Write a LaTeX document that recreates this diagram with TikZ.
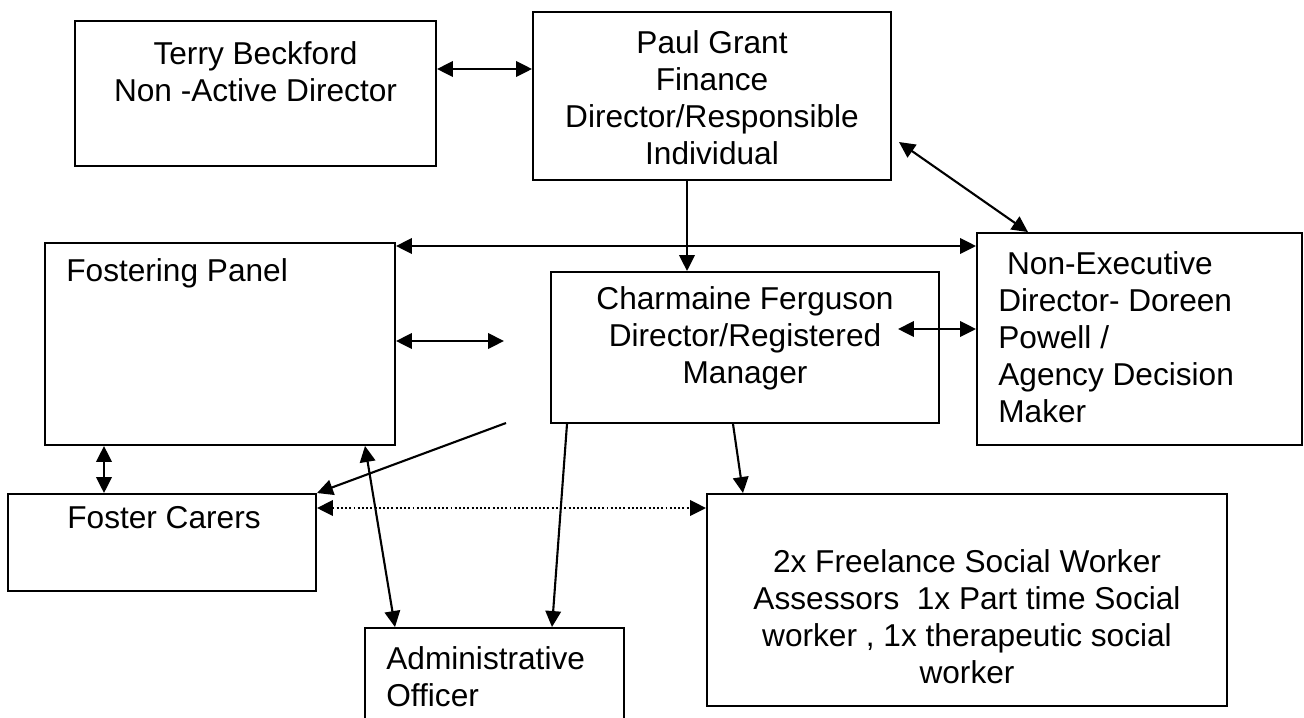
\documentclass[tikz,border=0pt]{standalone}
\usepackage{fontspec}
\setmainfont{Liberation Sans}
\usetikzlibrary{arrows.meta, calc, fit}

\begin{document}
\begin{tikzpicture}[
        x=0.02cm, y=-0.02cm,
        box/.style={draw, line width=1.1pt, inner sep=0pt},
        txt/.style={inner sep=0pt, align=center, font=\fontsize{18pt}{21pt}\selectfont},
        arrow/.style={-{Triangle[length=0.32cm, width=0.31cm]}, line width=1.2pt},
        both/.style={{Triangle[length=0.32cm, width=0.31cm]}-{Triangle[length=0.32cm, width=0.31cm]}, line width=1.2pt}
    ]
        \useasboundingbox (0,0) rectangle (1304,717);

        % Directors
        \node[box, fit={(75,21) (436,166)}] (terry) {};
        \node[txt] (terrytxt) at (255.5,72) {Terry Beckford\\Non -Active Director};

        \node[box, fit={(533,12) (891,180)}] (paul) {};
        \node[txt] (paultxt) at (712,98) {Paul Grant\\Finance\\Director/Responsible\\Individual};

        \node[box, fit={(977,233) (1302,445)}] (nonexec) {};
        \node[txt, align=left, anchor=west] (nonexectxt) at (998,337)
            {~Non-Executive\\Director- Doreen\\Powell /\\Agency Decision\\Maker};

        % Manager
        \node[box, fit={(551,272) (939,423)}] (charmaine) {};
        \node[txt] (charmainetxt) at (745,338) {Charmaine Ferguson\\Director/Registered\\Manager};

        % Panel and carers
        \node[box, fit={(45,243) (395,445)}] (panel) {};
        \node[txt, anchor=west] (paneltxt) at (66,273) {Fostering Panel};

        \node[box, fit={(8,494) (316,591)}] (carers) {};
        \node[txt, anchor=west] (carerstxt) at (67,518) {Foster Carers};

        % Staff
        \node[box, fit={(365,628) (624,745)}] (admin) {};
        \node[txt, align=left, anchor=west] (admintxt) at (386,677) {Administrative\\Officer};

        \node[box, fit={(707,494) (1227,706)}] (workers) {};
        \node[txt] (workerstxt) at (967,617)
            {2x Freelance Social Worker\\Assessors\ \ 1x Part time Social\\worker , 1x therapeutic social\\worker};

        % Free ends
        \coordinate (panelgap) at (504,341);
        \coordinate (mgrgap) at (506,423);

        % Arrows
        \draw[both] (terry.east |- 0,69) -- (paul.west |- 0,69);
        \draw[arrow] (paul.south -| 687,0) -- (charmaine.north -| 687,0);
        \draw[both] ($(paul.east |- 0,142)+(7,0)$) -- (nonexec.north -| 1028,0);
        \draw[both] (panel.east |- 0,246) -- (nonexec.west |- 0,246);
        \draw[both] (panel.east |- panelgap) -- (panelgap);
        \draw[both] ($(charmaine.east |- 0,329)+(-42,0)$) -- (nonexec.west |- 0,329);
        \draw[arrow] (mgrgap) -- (carers.north east);
        \draw[arrow] (charmaine.south -| 567,0) -- (admin.north -| 552,0);
        \draw[arrow] (charmaine.south -| 733,0) -- (workers.north -| 743,0);
        \draw[both] (panel.south -| 104,0) -- (carers.north -| 104,0);
        \draw[both] (panel.south -| 365,0) -- (admin.north -| 395,0);
        \draw[both, dash pattern=on 1.1pt off 1.3pt] (carers.east |- 0,508) -- (workers.west |- 0,508);
    \end{tikzpicture}
\end{document}
